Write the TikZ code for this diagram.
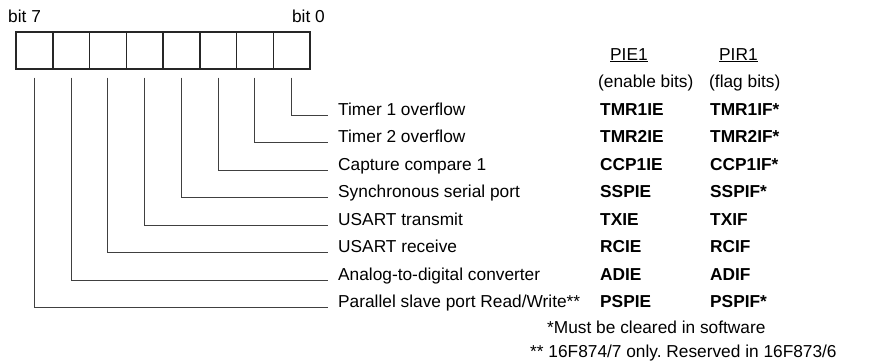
\documentclass[tikz,border=0pt]{standalone}
\usepackage{fontspec}
\setmainfont{Liberation Sans}
\usepackage{tikz}
\usetikzlibrary{positioning}

\begin{document}
\begin{tikzpicture}[x=1pt, y=-1pt, every node/.style={inner sep=0pt, font=\fontsize{17.3}{20}\selectfont},
    cell/.style={rectangle, draw=black!85, line width=1.5pt, minimum width=36.75pt, minimum height=37pt},
    lead/.style={draw=black!75, line width=0.8pt},
    txt/.style={anchor=base west},
    flagbit/.style={anchor=base west, font=\fontsize{17.3}{20}\selectfont\bfseries}]
    \useasboundingbox (0,0) rectangle (873,361);

    % Register
    \node[txt] (T_7) at (8,23) {bit 7};
    \node[anchor=base east] (T_0) at (325,23) {bit 0};
    \node[cell] (B_7) at (34.375,50.5) {};
    \node[cell] (B_6) at (71.125,50.5) {};
    \node[cell] (B_5) at (107.875,50.5) {};
    \node[cell] (B_4) at (144.625,50.5) {};
    \node[cell] (B_3) at (181.375,50.5) {};
    \node[cell] (B_2) at (218.125,50.5) {};
    \node[cell] (B_1) at (254.875,50.5) {};
    \node[cell] (B_0) at (291.625,50.5) {};

    % Headers
    \node[txt] (H_PIE) at (610,60) {\underline{PIE1}};
    \node[txt] (H_PIR) at (719,60) {\underline{PIR1}};
    \node[txt] (S_PIE) at (598,87.5) {(enable bits)};
    \node[txt] (S_PIR) at (709,87.5) {(flag bits)};

    % Interrupt sources
    \node[txt] (L_TMR1) at (338,115) {Timer 1 overflow};
    \node[txt] (L_TMR2) at (338,142.5) {Timer 2 overflow};
    \node[txt] (L_CCP1) at (338,170) {Capture compare 1};
    \node[txt] (L_SSP)  at (338,197.5) {Synchronous serial port};
    \node[txt] (L_TX)   at (338,225) {USART transmit};
    \node[txt] (L_RC)   at (338,252.5) {USART receive};
    \node[txt] (L_AD)   at (338,280) {Analog-to-digital converter};
    \node[txt] (L_PSP)  at (338,307.5) {Parallel slave port Read/Write**};

    % Enable bits (PIE1)
    \node[flagbit] (E_TMR1) at (600,115) {TMR1IE};
    \node[flagbit] (E_TMR2) at (600,142.5) {TMR2IE};
    \node[flagbit] (E_CCP1) at (600,170) {CCP1IE};
    \node[flagbit] (E_SSP)  at (600,197.5) {SSPIE};
    \node[flagbit] (E_TX)   at (600,225) {TXIE};
    \node[flagbit] (E_RC)   at (600,252.5) {RCIE};
    \node[flagbit] (E_AD)   at (600,280) {ADIE};
    \node[flagbit] (E_PSP)  at (600,307.5) {PSPIE};

    % Flag bits (PIR1)
    \node[flagbit] (F_TMR1) at (710,115) {TMR1IF*};
    \node[flagbit] (F_TMR2) at (710,142.5) {TMR2IF*};
    \node[flagbit] (F_CCP1) at (710,170) {CCP1IF*};
    \node[flagbit] (F_SSP)  at (710,197.5) {SSPIF*};
    \node[flagbit] (F_TX)   at (710,225) {TXIF};
    \node[flagbit] (F_RC)   at (710,252.5) {RCIF};
    \node[flagbit] (F_AD)   at (710,280) {ADIF};
    \node[flagbit] (F_PSP)  at (710,307.5) {PSPIF*};

    % Notes
    \node[txt] (N_1) at (547,333) {*Must be cleared in software};
    \node[txt] (N_2) at (530,357.5) {** 16F874/7 only.\ Reserved in 16F873/6};

    % Leader lines
    \draw[lead] ([yshift=-8pt]B_0.south) |- ([xshift=-10pt]L_TMR1.base west);
    \draw[lead] ([yshift=-8pt]B_1.south) |- ([xshift=-10pt]L_TMR2.base west);
    \draw[lead] ([yshift=-8pt]B_2.south) |- ([xshift=-10pt]L_CCP1.base west);
    \draw[lead] ([yshift=-8pt]B_3.south) |- ([xshift=-10pt]L_SSP.base west);
    \draw[lead] ([yshift=-8pt]B_4.south) |- ([xshift=-10pt]L_TX.base west);
    \draw[lead] ([yshift=-8pt]B_5.south) |- ([xshift=-10pt]L_RC.base west);
    \draw[lead] ([yshift=-8pt]B_6.south) |- ([xshift=-10pt]L_AD.base west);
    \draw[lead] ([yshift=-8pt]B_7.south) |- ([xshift=-10pt]L_PSP.base west);

\end{tikzpicture}
\end{document}
